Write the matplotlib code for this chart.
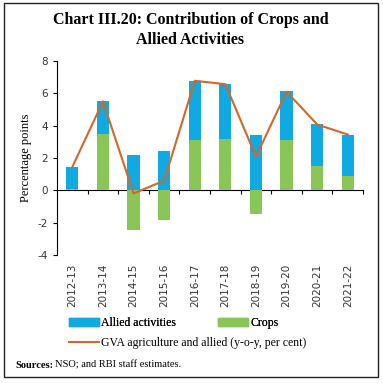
import matplotlib.pyplot as plt
import numpy as np
from matplotlib.patches import Patch, Rectangle
from matplotlib.lines import Line2D

plt.rcParams['axes.unicode_minus'] = False

# Data
years = ['2012-13', '2013-14', '2014-15', '2015-16', '2016-17',
         '2017-18', '2018-19', '2019-20', '2020-21', '2021-22']
crops = [0.1, 3.47, -2.43, -1.83, 3.1, 3.15, -1.44, 3.1, 1.5, 0.88]
allied = [1.36, 2.06, 2.18, 2.43, 3.67, 3.41, 3.45, 3.03, 2.57, 2.57]
gva = [1.45, 5.5, -0.19, 0.6, 6.77, 6.56, 2.08, 6.1, 4.07, 3.45]

blue = '#11A9E1'
green = '#8AC557'
orange = '#D2672A'
serif = 'Liberation Serif'

fig = plt.figure(figsize=(3.83, 3.83), dpi=100)
ax = fig.add_axes([0.149, 0.334, 0.799, 0.507])

pos = np.arange(len(years))
width = 0.4

# Crops at the base, allied stacked on the positive side
ax.bar(pos, crops, width, color=green, zorder=2)
allied_bottom = [c if c > 0 else 0 for c in crops]
ax.bar(pos, allied, width, bottom=allied_bottom, color=blue, zorder=2)
ax.plot(pos, gva, color=orange, lw=1.5, zorder=3)

ax.set_xlim(-0.5, len(years) - 0.5)
ax.set_ylim(-4, 8)
ax.set_yticks(range(-4, 9, 2))
ax.tick_params(axis='y', labelsize=7.5, labelcolor='#333333', length=3, width=0.8)
ax.set_ylabel('Percentage points', family=serif, fontsize=9, labelpad=4)

# Category labels at the bottom, no ticks there
ax.set_xticks(pos)
ax.set_xticklabels(years, rotation=90, fontsize=7.5, color='#333333')
ax.tick_params(axis='x', length=0, pad=6)

for s in ['top', 'right', 'bottom']:
    ax.spines[s].set_visible(False)
ax.spines['left'].set_linewidth(0.8)

# Zero line with ticks between categories
sec = ax.secondary_xaxis(4 / 12)
sec.set_xticks(np.arange(0.5, len(years), 1.0))
sec.set_xticklabels([])
sec.tick_params(direction='out', length=3, width=0.8)
sec.spines['bottom'].set_linewidth(0.8)

# Title
fig.text(0.497, 0.948, 'Chart III.20: Contribution of Crops and', ha='center', va='center',
         family=serif, fontweight='bold', fontsize=11.5)
fig.text(0.497, 0.896, 'Allied Activities', ha='center', va='center',
         family=serif, fontweight='bold', fontsize=11.5)

# Legends
h1 = [Patch(color=blue, label='Allied activities'), Patch(color=green, label='Crops')]
leg1 = fig.legend(handles=h1, ncol=2, loc='center left', bbox_to_anchor=(69 / 383, 1 - 323 / 383),
                  frameon=False, prop={'family': serif, 'size': 8.5},
                  handlelength=2.5, handleheight=0.6, handletextpad=0.2, columnspacing=3.6,
                  borderaxespad=0, borderpad=0)
h2 = [Line2D([], [], color=orange, lw=1.5, label='GVA agriculture and allied (y-o-y, per cent)')]
leg2 = fig.legend(handles=h2, loc='center left', bbox_to_anchor=(69 / 383, 1 - 343 / 383),
                  frameon=False, prop={'family': serif, 'size': 8.5},
                  handlelength=2.5, handletextpad=0.2, borderaxespad=0, borderpad=0)
fig.add_artist(leg1)

# Source note
fig.text(15 / 383, 1 - 365 / 383, 'Sources:', family=serif, fontweight='bold', fontsize=7.5, va='center')
fig.text(55 / 383, 1 - 365 / 383, 'NSO; and RBI staff estimates.', family=serif, fontsize=7.5, va='center')

# Frame around the whole chart
fig.add_artist(Rectangle((4 / 383, 1 - 377 / 383), 374 / 383, 374 / 383,
                         transform=fig.transFigure, fill=False, lw=1.0, color='#222222'))

fig.savefig('out.png', dpi=100)
